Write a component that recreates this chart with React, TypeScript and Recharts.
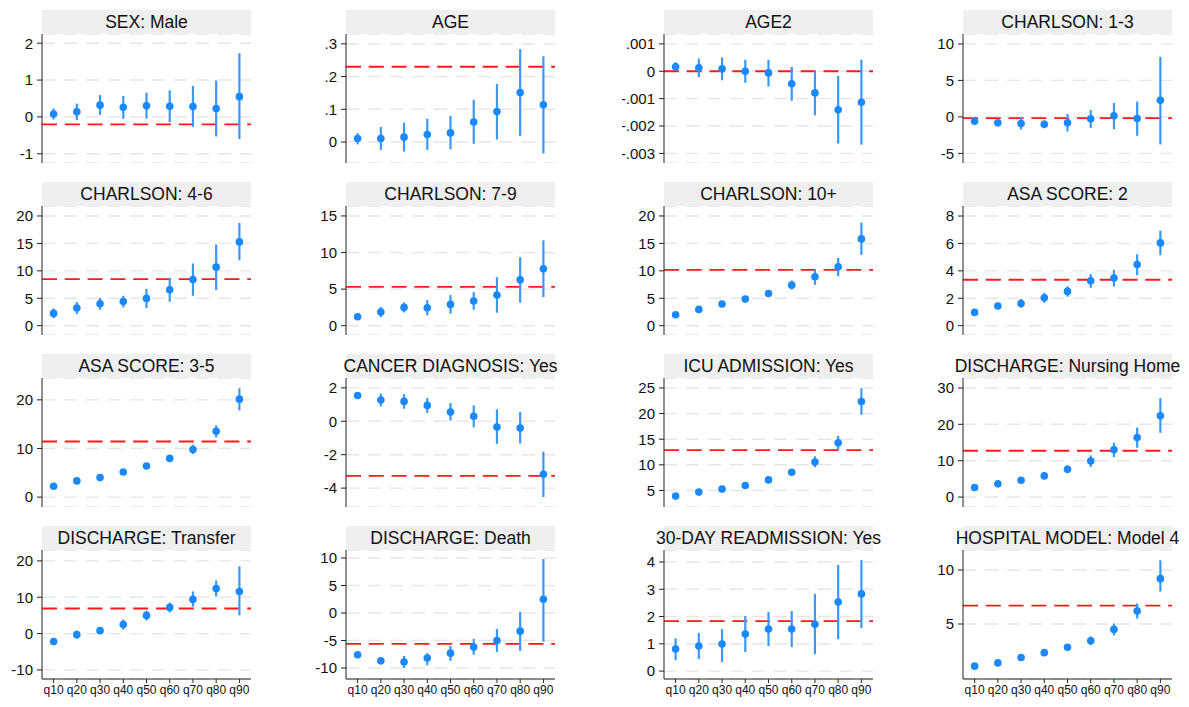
import { ComposedChart, Scatter, ErrorBar, XAxis, YAxis, CartesianGrid, ReferenceLine } from 'recharts'

// quantile labels on the shared x axis
const quantiles = ['q10', 'q20', 'q30', 'q40', 'q50', 'q60', 'q70', 'q80', 'q90']

// estimates, lower / upper CI bounds, and the red reference value for each panel
const sexEst = [0.08, 0.14, 0.32, 0.26, 0.3, 0.29, 0.28, 0.23, 0.55]
const sexLo = [-0.07, -0.09, 0.05, -0.05, -0.05, -0.14, -0.27, -0.53, -0.6]
const sexHi = [0.23, 0.36, 0.59, 0.57, 0.66, 0.72, 0.84, 0.99, 1.73]
const sexRef = -0.2

const ageEst = [0.011, 0.011, 0.015, 0.023, 0.028, 0.061, 0.093, 0.151, 0.114]
const ageLo = [-0.007, -0.024, -0.029, -0.024, -0.022, -0.005, 0.008, 0.019, -0.035]
const ageHi = [0.027, 0.046, 0.059, 0.071, 0.08, 0.129, 0.177, 0.284, 0.262]
const ageRef = 0.23

const age2Est = [0.00016, 0.00013, 0.00009, 0.0, -0.00006, -0.00046, -0.00079, -0.00141, -0.00113]
const age2Lo = [0.00003, -0.00021, -0.00033, -0.00042, -0.00056, -0.00108, -0.00161, -0.00264, -0.00268]
const age2Hi = [0.00033, 0.00046, 0.0005, 0.00042, 0.00042, 0.00016, 0.00001, -0.00017, 0.00042]
const age2Ref = 0

const ch13Est = [-0.59, -0.82, -0.91, -1.0, -0.82, -0.27, 0.14, -0.23, 2.27]
const ch13Lo = [-0.86, -1.18, -1.73, -1.55, -2.0, -1.5, -1.68, -2.59, -3.77]
const ch13Hi = [-0.27, -0.5, -0.05, -0.5, 0.41, 0.95, 1.91, 2.09, 8.23]
const ch13Ref = -0.18

const ch46Est = [2.24, 3.21, 4.0, 4.42, 4.97, 6.55, 8.42, 10.67, 15.27]
const ch46Lo = [1.39, 2.12, 2.91, 3.33, 3.21, 4.36, 5.45, 6.48, 11.94]
const ch46Hi = [3.15, 4.3, 5.03, 5.45, 6.73, 8.67, 11.33, 14.79, 18.73]
const ch46Ref = 8.48

const ch79Est = [1.23, 1.86, 2.5, 2.45, 2.91, 3.36, 4.18, 6.27, 7.77]
const ch79Lo = [0.86, 1.18, 1.82, 1.41, 1.64, 2.18, 1.77, 3.14, 3.91]
const ch79Hi = [1.59, 2.55, 3.18, 3.5, 4.18, 4.59, 6.64, 9.36, 11.68]
const ch79Ref = 5.32

const ch10Est = [2.0, 2.97, 3.94, 4.85, 5.88, 7.39, 8.91, 10.73, 15.82]
const ch10Lo = [1.64, 2.61, 3.58, 4.42, 5.33, 6.61, 7.45, 9.03, 12.91]
const ch10Hi = [2.36, 3.27, 4.3, 5.27, 6.36, 8.24, 10.24, 12.36, 18.79]
const ch10Ref = 10.18

const asa2Est = [0.97, 1.43, 1.62, 2.04, 2.5, 3.27, 3.47, 4.46, 6.04]
const asa2Lo = [0.8, 1.24, 1.31, 1.67, 2.11, 2.76, 2.86, 3.68, 5.14]
const asa2Hi = [1.14, 1.62, 1.96, 2.4, 2.88, 3.76, 4.07, 5.21, 6.93]
const asa2Ref = 3.35

const asa35Est = [2.24, 3.33, 4.01, 5.17, 6.39, 7.96, 9.8, 13.54, 20.14]
const asa35Lo = [1.84, 2.93, 3.54, 4.69, 5.85, 7.41, 8.84, 12.24, 17.82]
const asa35Hi = [2.65, 3.74, 4.49, 5.65, 6.94, 8.5, 10.75, 14.76, 22.38]
const asa35Ref = 11.43

const cancerEst = [1.54, 1.27, 1.19, 0.95, 0.55, 0.3, -0.34, -0.4, -3.17]
const cancerLo = [1.35, 0.89, 0.75, 0.5, 0.04, -0.36, -1.35, -1.33, -4.53]
const cancerHi = [1.74, 1.66, 1.62, 1.39, 1.09, 0.95, 0.71, 0.55, -1.82]
const cancerRef = -3.27

const icuEst = [3.9, 4.68, 5.26, 5.97, 7.06, 8.55, 10.55, 14.29, 22.35]
const icuLo = [3.52, 4.29, 4.87, 5.52, 6.61, 8.1, 9.52, 13.0, 19.77]
const icuHi = [4.29, 5.06, 5.65, 6.42, 7.52, 9.0, 11.65, 15.65, 24.94]
const icuRef = 12.87

const nursingEst = [2.64, 3.64, 4.64, 5.82, 7.64, 9.91, 13.0, 16.36, 22.36]
const nursingLo = [2.09, 3.09, 4.0, 4.91, 6.55, 8.27, 11.0, 13.55, 17.64]
const nursingHi = [3.18, 4.18, 5.27, 6.73, 8.73, 11.45, 14.91, 19.09, 27.18]
const nursingRef = 12.73

const transferEst = [-2.2, -0.3, 0.8, 2.5, 5.0, 7.2, 9.4, 12.4, 11.6]
const transferLo = [-3.0, -1.4, 0.0, 1.1, 3.6, 5.8, 7.4, 10.2, 5.0]
const transferHi = [-1.4, 0.8, 1.6, 3.9, 6.3, 8.5, 11.6, 14.6, 18.5]
const transferRef = 6.9

const deathEst = [-7.6, -8.7, -8.9, -8.2, -7.3, -6.2, -5.0, -3.3, 2.5]
const deathLo = [-8.2, -9.3, -10.0, -9.5, -8.7, -7.6, -7.1, -6.9, -5.2]
const deathHi = [-7.1, -8.1, -7.8, -7.3, -6.0, -4.7, -2.9, 0.2, 9.8]
const deathRef = -5.6

const readmEst = [0.81, 0.92, 0.99, 1.36, 1.54, 1.54, 1.72, 2.53, 2.83]
const readmLo = [0.4, 0.44, 0.33, 0.7, 0.92, 0.88, 0.62, 1.17, 1.58]
const readmHi = [1.2, 1.4, 1.54, 2.02, 2.17, 2.2, 2.83, 3.89, 4.07]
const readmRef = 1.83

const hospEst = [1.1, 1.4, 1.9, 2.35, 2.85, 3.45, 4.5, 6.2, 9.2]
const hospLo = [0.85, 1.2, 1.7, 2.1, 2.55, 3.05, 3.95, 5.5, 8.0]
const hospHi = [1.3, 1.6, 2.1, 2.6, 3.15, 3.85, 5.05, 6.9, 10.9]
const hospRef = 6.7

const panels = [
  { title: 'SEX: Male', est: sexEst, lo: sexLo, hi: sexHi, ref: sexRef, ticks: [-1, 0, 1, 2], domain: [-1.25, 2.25] },
  { title: 'AGE', est: ageEst, lo: ageLo, hi: ageHi, ref: ageRef, ticks: [0, 0.1, 0.2, 0.3], domain: [-0.064, 0.33] },
  { title: 'AGE2', est: age2Est, lo: age2Lo, hi: age2Hi, ref: age2Ref, ticks: [-0.003, -0.002, -0.001, 0, 0.001], domain: [-0.00335, 0.00136] },
  { title: 'CHARLSON: 1-3', est: ch13Est, lo: ch13Lo, hi: ch13Hi, ref: ch13Ref, ticks: [-5, 0, 5, 10], domain: [-6.32, 11.36] },
  { title: 'CHARLSON: 4-6', est: ch46Est, lo: ch46Lo, hi: ch46Hi, ref: ch46Ref, ticks: [0, 5, 10, 15, 20], domain: [-1.7, 21.82] },
  { title: 'CHARLSON: 7-9', est: ch79Est, lo: ch79Lo, hi: ch79Hi, ref: ch79Ref, ticks: [0, 5, 10, 15], domain: [-1.27, 16.36] },
  { title: 'CHARLSON: 10+', est: ch10Est, lo: ch10Lo, hi: ch10Hi, ref: ch10Ref, ticks: [0, 5, 10, 15, 20], domain: [-1.7, 21.82] },
  { title: 'ASA SCORE: 2', est: asa2Est, lo: asa2Lo, hi: asa2Hi, ref: asa2Ref, ticks: [0, 2, 4, 6, 8], domain: [-0.68, 8.73] },
  { title: 'ASA SCORE: 3-5', est: asa35Est, lo: asa35Lo, hi: asa35Hi, ref: asa35Ref, ticks: [0, 10, 20], domain: [-2.04, 24.49] },
  { title: 'CANCER DIAGNOSIS: Yes', est: cancerEst, lo: cancerLo, hi: cancerHi, ref: cancerRef, ticks: [-4, -2, 0, 2], domain: [-5.13, 2.59] },
  { title: 'ICU ADMISSION: Yes', est: icuEst, lo: icuLo, hi: icuHi, ref: icuRef, ticks: [5, 10, 15, 20, 25], domain: [1.77, 26.94] },
  { title: 'DISCHARGE: Nursing Home', est: nursingEst, lo: nursingLo, hi: nursingHi, ref: nursingRef, ticks: [0, 10, 20, 30], domain: [-2.73, 32.73] },
  { title: 'DISCHARGE: Transfer', est: transferEst, lo: transferLo, hi: transferHi, ref: transferRef, ticks: [-10, 0, 10, 20], domain: [-12.5, 23] },
  { title: 'DISCHARGE: Death', est: deathEst, lo: deathLo, hi: deathHi, ref: deathRef, ticks: [-10, -5, 0, 5, 10], domain: [-12, 11.45] },
  { title: '30-DAY READMISSION: Yes', est: readmEst, lo: readmLo, hi: readmHi, ref: readmRef, ticks: [0, 1, 2, 3, 4], domain: [-0.29, 4.44] },
  { title: 'HOSPITAL MODEL: Model 4', est: hospEst, lo: hospLo, hi: hospHi, ref: hospRef, ticks: [5, 10], domain: [-0.09, 11.85] },
]

const colX = [42, 346, 664, 963]
const rowY = [10, 182, 354, 526]
const PLOT_W = 209
const PLOT_H = 129
const STRIP_H = 24
const Y_W = 42
const X_H = 26
const FONT = '"Liberation Sans", Arial, Helvetica, sans-serif'

const fmt = (v: number) => {
  if (v === 0) return '0'
  const s = String(Number(v.toPrecision(6)))
  return s.replace(/^(-?)0\./, '$1.')
}

const Dot = (props: any) => <circle cx={props.cx} cy={props.cy} r={3.8} fill="#1a88ff" />

function Panel({ p, idx }: { p: any; idx: number }) {
  const col = idx % 4
  const row = Math.floor(idx / 4)
  const left = colX[col]
  const top = rowY[row]
  const bottom = row === 3
  const data = quantiles.map((q, i) => ({
    x: i + 1,
    q,
    y: p.est[i],
    err: [p.est[i] - p.lo[i], p.hi[i] - p.est[i]],
  }))

  return (
    <>
      <div
        style={{
          position: 'absolute',
          left,
          top,
          width: PLOT_W,
          height: STRIP_H,
          background: '#efefef',
          display: 'flex',
          justifyContent: 'center',
          alignItems: 'center',
          fontSize: 17.5,
          color: '#111',
          whiteSpace: 'nowrap',
        }}
      >
        <span>{p.title}</span>
      </div>
      <div style={{ position: 'absolute', left: left - Y_W, top: top + STRIP_H }}>
        <ComposedChart
          width={Y_W + PLOT_W}
          height={PLOT_H + (bottom ? X_H : 0)}
          data={data}
          margin={{ top: 0, right: 0, bottom: 0, left: 0 }}
        >
          <CartesianGrid vertical={false} stroke="#e6e6e6" strokeWidth={1.4} strokeDasharray="13 9" />
          <XAxis
            type="number"
            dataKey="x"
            domain={[0.5, 9.5]}
            ticks={[1, 2, 3, 4, 5, 6, 7, 8, 9]}
            allowDataOverflow
            hide={!bottom}
            height={X_H}
            tickFormatter={(v: number) => quantiles[v - 1]}
            tick={{ fill: '#111', fontSize: 12 }}
            tickSize={4}
            tickMargin={2}
            stroke="#222"
            interval={0}
          />
          <YAxis
            type="number"
            domain={p.domain}
            ticks={p.ticks}
            allowDataOverflow
            width={Y_W}
            tickFormatter={fmt}
            tick={{ fill: '#111', fontSize: 15 }}
            tickSize={5}
            tickMargin={4}
            stroke="#222"
            interval={0}
          />
          <ReferenceLine y={p.ref} stroke="#ff1a1a" strokeWidth={1.8} strokeDasharray="15 7.8" />
          <Scatter dataKey="y" isAnimationActive={false} shape={Dot}>
            <ErrorBar dataKey="err" direction="y" width={0} stroke="#3a98f8" strokeWidth={2.2} isAnimationActive={false} />
          </Scatter>
        </ComposedChart>
      </div>
    </>
  )
}

export default function App() {
  return (
    <div
      style={{
        position: 'absolute',
        left: 0,
        top: 0,
        width: 1189,
        height: 707,
        background: '#fff',
        fontFamily: FONT,
      }}
    >
      {panels.map((p, i) => (
        <Panel key={p.title} p={p} idx={i} />
      ))}
    </div>
  )
}
